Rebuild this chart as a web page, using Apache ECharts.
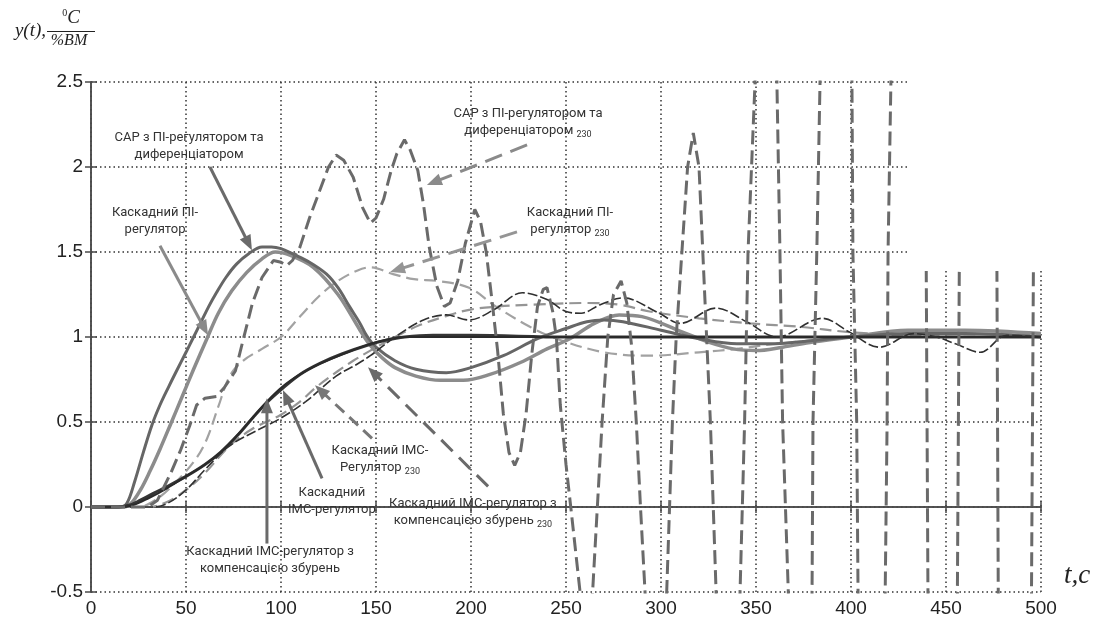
<!DOCTYPE html>
<html>
<head>
<meta charset="utf-8">
<script src="https://cdn.jsdelivr.net/npm/echarts@6/dist/echarts.min.js"></script>
<style>
  html, body { margin: 0; padding: 0; background: #ffffff; }
  #chart { width: 1103px; height: 621px; }
</style>
</head>
<body>
<div id="chart"></div>
<script>
// Step responses y(t), time t in seconds
const xMin = 0, xMax = 500, xStep = 50;
const yMin = -0.5, yMax = 2.5, yStep = 0.5;

// САР з ПІ-регулятором та диференціатором
const sapDiff = [[0,0],[15,0],[18.8,0.02],[23,0.15],[27.5,0.32],[32,0.48],[36.3,0.6],[41,0.71],[45,0.8],[50,0.91],[54,1.0],[58,1.09],[62,1.18],[66,1.26],[71,1.35],[76.7,1.43],[83,1.49],[90,1.53],[95,1.53],[100,1.52],[106,1.49],[115,1.44],[124,1.37],[130,1.29],[136,1.18],[141.6,1.08],[145,1.01],[150,0.94],[160,0.86],[171,0.81],[187,0.79],[200,0.82],[217,0.89],[235,0.99],[250,1.05],[261,1.09],[270,1.1],[280,1.09],[300,1.04],[320,0.99],[340,0.96],[360,0.96],[380,0.98],[400,1.0],[430,1.02],[460,1.02],[500,1.0]];
// Каскадний ПІ-регулятор
const cascPi = [[0,0],[17,0],[21,0.02],[26,0.1],[31,0.21],[36.3,0.34],[42,0.49],[48,0.65],[54,0.81],[61,0.99],[67,1.14],[74,1.27],[82,1.38],[90,1.46],[97,1.5],[105,1.48],[117,1.41],[130,1.25],[141.6,1.04],[147,0.95],[153,0.88],[160,0.82],[171,0.77],[184,0.745],[196,0.745],[210,0.78],[226,0.85],[240,0.93],[252,0.99],[265,1.08],[278,1.13],[290,1.12],[311,1.03],[325,0.97],[338,0.93],[350,0.92],[364,0.94],[380,0.97],[400,1.0],[430,1.04],[460,1.04],[500,1.02]];
// Каскадний IMC-регулятор
const cascImc = [[0,0],[14,0],[20,0.01],[26,0.04],[32.8,0.08],[40,0.12],[50,0.18],[60,0.25],[68,0.32],[77,0.42],[85.5,0.53],[93,0.62],[101,0.7],[110,0.78],[120.5,0.845],[132,0.9],[145,0.95],[155,0.98],[165,1.0],[180,1.01],[200,1.01],[250,1.0],[300,1.0],[400,1.0],[500,1.0]];
// Каскадний IMC-регулятор з компенсацією збурень
const cascImcComp = [[0,0],[16,0],[22,0.01],[30,0.05],[40,0.11],[50,0.18],[60,0.25],[70,0.34],[80,0.46],[92.6,0.62],[101,0.71],[110,0.78],[120,0.84],[135,0.91],[150,0.97],[165,1.0],[200,1.0],[300,1.0],[500,1.0]];
// САР з ПІ-регулятором та диференціатором, 230
const sapDiff230 = [[0,0],[30,0],[35,0.04],[42,0.2],[47,0.33],[52,0.48],[55.6,0.6],[60,0.64],[66,0.65],[70,0.7],[76,0.8],[80,0.98],[85,1.2],[90,1.35],[96,1.45],[100,1.44],[103,1.42],[106,1.45],[110,1.53],[115,1.7],[120,1.85],[125,2.0],[129,2.07],[133,2.04],[138,1.94],[143,1.76],[147,1.67],[150,1.7],[154,1.81],[158,1.98],[161,2.08],[165,2.16],[168,2.1],[172,1.98],[175,1.78],[178,1.53],[182,1.3],[186,1.18],[189,1.2],[193,1.33],[197,1.55],[202,1.75],[205,1.68],[208,1.5],[211,1.22],[214,0.92],[217,0.55],[220,0.32],[223,0.245],[226,0.32],[229,0.55],[232,0.9],[235,1.18],[238,1.28],[240,1.29],[243,1.15],[245,0.99],[247,0.6],[250,0.25],[253,-0.05],[257.4,-0.5],[260.5,-1.5],[264,-0.5],[266.5,0],[269,0.5],[272,1.0],[275,1.25],[279,1.33],[282,1.2],[284.5,0.95],[287,0.5],[289.2,0],[291.6,-0.5],[297,-2.5],[303,-0.5],[304.5,0],[306,0.5],[308,1.0],[311,1.5],[314,2.0],[317,2.2],[320,2.0],[322,1.5],[324,1.0],[326,0.5],[327.5,0],[329,-0.5],[335,-4],[341.6,-0.5],[344,0.5],[345.8,1.5],[349.5,2.5],[355,6],[361,2.5],[362.6,1.5],[364,0.5],[367,-0.5],[373,-6],[379.5,-0.5],[380,0.5],[382,1.5],[383.7,2.5],[392,8],[400.5,2.5],[401,1.5],[403,0.5],[403.7,-0.5],[411,-8],[418,-0.5],[419,0.5],[419.5,1.5],[421,2.5],[430,9],[439.6,1.4],[440.5,-0.5],[448,-9],[456,-0.5],[457,1.4],[467,9],[476.8,1.4],[477.5,-0.5],[486,-9],[495,-0.5],[496,1.4],[500,8]];
// Каскадний ПІ-регулятор, 230
const cascPi230 = [[0,0],[25,0],[35,0.05],[45,0.15],[55,0.28],[61,0.4],[67,0.59],[73,0.77],[80,0.86],[90,0.93],[100,1.0],[110,1.12],[120,1.24],[130,1.33],[140,1.39],[147,1.41],[159,1.37],[170,1.34],[182,1.33],[199,1.29],[213,1.18],[231,1.06],[245,0.99],[270,0.91],[294,0.89],[320,0.91],[340,0.93],[360,0.96],[380,0.98],[400,1.0],[450,1.02],[500,1.01]];
// Каскадний IMC-регулятор, 230
const cascImc230 = [[0,0],[30,0],[40,0.03],[50,0.1],[60,0.2],[73,0.36],[85,0.46],[99.5,0.54],[110,0.62],[118,0.7],[130,0.8],[138,0.86],[147,0.92],[160,1.0],[173,1.07],[186,1.12],[199,1.16],[215,1.18],[231,1.19],[261,1.2],[278,1.19],[294,1.15],[320,1.11],[347,1.08],[373,1.06],[398,1.03],[430,1.01],[470,1.0],[500,1.0]];
// Каскадний IMC-регулятор з компенсацією збурень, 230
const cascImcComp230 = [[0,0],[33,0],[40,0.02],[50,0.1],[60,0.22],[73,0.36],[89,0.46],[99.5,0.52],[113,0.62],[129,0.77],[140,0.84],[147,0.89],[160,1.0],[175,1.1],[187,1.13],[199,1.1],[212,1.16],[227,1.26],[240,1.22],[250,1.15],[258,1.14],[268,1.19],[280,1.23],[299,1.14],[310,1.08],[329,1.17],[345,1.09],[361,1.0],[385,1.11],[399,1.03],[415,0.94],[433,1.02],[445,1.0],[455,0.96],[468,0.91],[482,1.01],[500,1.0]];

const seriesNames = [
  'Каскадний ПІ-регулятор 230',
  'Каскадний IMC-регулятор 230',
  'Каскадний ПІ-регулятор',
  'САР з ПІ-регулятором та диференціатором',
  'Каскадний IMC-регулятор',
  'Каскадний IMC-регулятор з компенсацією збурень',
  'Каскадний IMC-регулятор з компенсацією збурень 230',
  'САР з ПІ-регулятором та диференціатором 230'
];
const seriesData = [cascPi230, cascImc230, cascPi, sapDiff, cascImc, cascImcComp, cascImcComp230, sapDiff230];
const seriesStyle = [
  { color: '#a2a2a2', width: 2.2, type: [12, 6], smooth: 0.35 },
  { color: '#959595', width: 2.2, type: [12, 6], smooth: 0.35 },
  { color: '#8c8c8c', width: 3.5, type: 'solid', smooth: 0.35 },
  { color: '#666666', width: 3, type: 'solid', smooth: 0.35 },
  { color: '#353535', width: 3, type: 'solid', smooth: 0.35 },
  { color: '#2a2a2a', width: 2, type: 'solid', smooth: 0.35 },
  { color: '#303030', width: 1.6, type: [10, 3], smooth: 0.35 },
  { color: '#6a6a6a', width: 3, type: [14, 6], smooth: false }
];

const tickFont = { fontFamily: 'Liberation Sans, Arial, sans-serif', fontSize: 19, color: '#222' };
const gridLine = { show: true, lineStyle: { color: '#333', width: 1.5, type: [1.5, 3] } };
const frameLine = { show: true, lineStyle: { color: '#4a4a4a', width: 1.5 } };

const chart = echarts.init(document.getElementById('chart'));
chart.setOption({
  animation: false,
  backgroundColor: '#ffffff',
  grid: { left: 91, top: 82, width: 950, height: 510 },
  xAxis: [
    { type: 'value', min: xMin, max: xMax, interval: xStep, position: 'bottom',
      axisLine: frameLine, axisTick: { inside: true, length: 6, lineStyle: { color: '#4a4a4a', width: 1.5 } },
      axisLabel: Object.assign({ margin: 7 }, tickFont), splitLine: gridLine },
    { type: 'value', min: xMin, max: xMax, interval: xStep, position: 'top',
      axisLine: frameLine, axisTick: { inside: true, length: 6, lineStyle: { color: '#4a4a4a', width: 1.5 } },
      axisLabel: { show: false }, splitLine: { show: false } }
  ],
  yAxis: [
    { type: 'value', min: yMin, max: yMax, interval: yStep, position: 'left',
      axisLine: frameLine, axisTick: { inside: true, length: 6, lineStyle: { color: '#4a4a4a', width: 1.5 } },
      axisLabel: Object.assign({ margin: 8 }, tickFont), splitLine: gridLine },
    { type: 'value', min: yMin, max: yMax, interval: yStep, position: 'right',
      axisLine: frameLine, axisTick: { inside: true, length: 6, lineStyle: { color: '#4a4a4a', width: 1.5 } },
      axisLabel: { show: false }, splitLine: { show: false } }
  ],
  series: seriesNames.map((name, i) => ({
    name: name,
    type: 'line',
    data: seriesData[i],
    xAxisIndex: 0,
    yAxisIndex: 0,
    showSymbol: false,
    smooth: seriesStyle[i].smooth,
    clip: true,
    lineStyle: { color: seriesStyle[i].color, width: seriesStyle[i].width, type: seriesStyle[i].type },
    z: 2 + i
  }))
});

// Callouts: text anchor and arrow in data units
const annotations = [
  { lines: ['САР з ПІ-регулятором та', 'диференціатором'], sub: '', at: [51.6, 2.121], from: [62.6, 2.0], to: [84.7, 1.511], color: '#6a6a6a', dash: null },
  { lines: ['Каскадний ПІ-', 'регулятор'], sub: '', at: [33.7, 1.679], from: [36.3, 1.537], to: [61.6, 1.011], color: '#8a8a8a', dash: null },
  { lines: ['САР з ПІ-регулятором та', 'диференціатором '], sub: '230', at: [230, 2.266], from: [229.5, 2.13], to: [176.8, 1.894], color: '#8a8a8a', dash: [18, 9] },
  { lines: ['Каскадний ПІ-', 'регулятор '], sub: '230', at: [252.1, 1.679], from: [224.2, 1.618], to: [157.4, 1.382], color: '#959595', dash: [18, 9] },
  { lines: ['Каскадний IMC-', 'Регулятор '], sub: '230', at: [152.1, 0.28], from: [147.9, 0.404], to: [117.9, 0.716], color: '#777777', dash: [12, 7] },
  { lines: ['Каскадний', 'IMC-регулятор'], sub: '', at: [126.8, 0.032], from: [121.6, 0.168], to: [101.05, 0.687], color: '#6a6a6a', dash: null },
  { lines: ['Каскадний IMC-регулятор з', 'компенсацією збурень'], sub: '', at: [94.2, -0.315], from: [92.6, -0.215], to: [92.6, 0.639], color: '#6a6a6a', dash: null },
  { lines: ['Каскадний IMC-регулятор з', 'компенсацією збурень '], sub: '230', at: [201, -0.032], from: [209, 0.121], to: [145.8, 0.822], color: '#6a6a6a', dash: [16, 9] }
];

const P = (pt) => chart.convertToPixel({ gridIndex: 0 }, pt);
const labelFont = 'Roboto, "Noto Sans", sans-serif';
const graphics = [];

// blank corner of the frame above y = 1.38 past t = 430
const corner = P([430, 1.38]);
graphics.push({ type: 'rect', id: 'cornerBlank', zlevel: 1, z: 1000, silent: true,
  shape: { x: Math.round(corner[0]) + 1, y: 0, width: 1103 - Math.round(corner[0]), height: Math.round(corner[1]) - 1 },
  style: { fill: '#ffffff', stroke: null } });

annotations.forEach((a, k) => {
  const s = P(a.from), t = P(a.to);
  const dx = t[0] - s[0], dy = t[1] - s[1];
  const len = Math.hypot(dx, dy);
  const ux = dx / len, uy = dy / len;
  const nx = -uy, ny = ux;
  const headL = 15, headW = 6;
  const bx = t[0] - ux * headL, by = t[1] - uy * headL;
  graphics.push({ type: 'line', id: 'arrowLine' + k, z: 110, silent: true,
    shape: { x1: s[0], y1: s[1], x2: bx + ux * 2, y2: by + uy * 2 },
    style: { stroke: a.color, lineWidth: 3, lineDash: a.dash || null } });
  graphics.push({ type: 'polygon', id: 'arrowHead' + k, z: 110, silent: true,
    shape: { points: [[t[0], t[1]], [bx + nx * headW, by + ny * headW], [bx - nx * headW, by - ny * headW]] },
    style: { fill: a.color } });
  const c = P(a.at);
  const text = '{t|' + a.lines[0] + '}\n{t|' + a.lines[1] + '}' + (a.sub ? '{s|' + a.sub + '}' : '');
  graphics.push({ type: 'text', id: 'callout' + k, z: 110, silent: true, x: c[0], y: c[1],
    style: { text: text, align: 'center', verticalAlign: 'middle',
      rich: {
        t: { fontFamily: labelFont, fontSize: 13, fill: '#333333', lineHeight: 17 },
        s: { fontFamily: labelFont, fontSize: 9, fill: '#333333', lineHeight: 17, verticalAlign: 'bottom', padding: [5, 0, 0, 0] }
      } } });
});

// axis titles
const serif = '"Liberation Serif", "DejaVu Serif", serif';
graphics.push({ type: 'text', id: 'yTitle', z: 110, silent: true, x: 46, y: 31,
  style: { text: 'y(t),', fontFamily: serif, fontStyle: 'italic', fontSize: 19, fill: '#222', align: 'right', verticalAlign: 'middle' } });
graphics.push({ type: 'text', id: 'yUnitTop', z: 110, silent: true, x: 71, y: 18,
  style: { text: '{o|0}{c|C}', align: 'center', verticalAlign: 'middle',
    rich: { o: { fontFamily: serif, fontSize: 10, fill: '#222', verticalAlign: 'top' },
            c: { fontFamily: serif, fontStyle: 'italic', fontSize: 19, fill: '#222' } } } });
graphics.push({ type: 'line', id: 'yUnitBar', z: 110, silent: true, shape: { x1: 47, y1: 31.5, x2: 95, y2: 31.5 },
  style: { stroke: '#222', lineWidth: 1 } });
graphics.push({ type: 'text', id: 'yUnitBottom', z: 110, silent: true, x: 69, y: 41,
  style: { text: '%BM', fontFamily: serif, fontStyle: 'italic', fontSize: 16, fill: '#222', align: 'center', verticalAlign: 'middle' } });
graphics.push({ type: 'text', id: 'xTitle', z: 110, silent: true, x: 1064, y: 576,
  style: { text: 't,c', fontFamily: serif, fontStyle: 'italic', fontSize: 27, fill: '#222', verticalAlign: 'middle' } });

chart.setOption({ graphic: { elements: graphics } });
</script>
</body>
</html>
